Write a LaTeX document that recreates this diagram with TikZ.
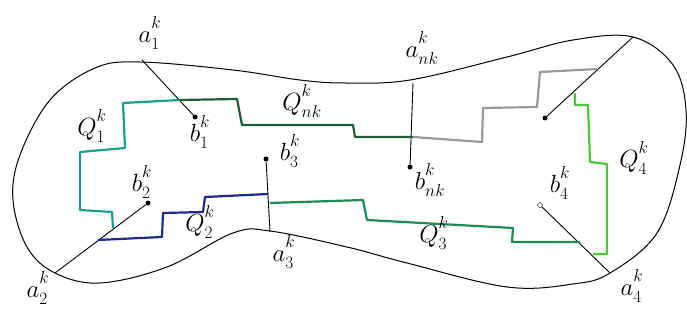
\documentclass[tikz,border=0pt]{standalone}
\usepackage{amsmath}
\definecolor{qone}{HTML}{1A9E8C}
\definecolor{qnk}{HTML}{1F5A3A}
\definecolor{qgray}{HTML}{9A9A9A}
\definecolor{qfour}{HTML}{4CC83A}
\definecolor{qthree}{HTML}{1E8A55}
\definecolor{qtwo}{HTML}{1E2A8A}
\newcommand{\mylbl}[3]{$#1_{#2}^{\raisebox{5pt}{$\scriptstyle #3$}}$}
\begin{document}
\begin{tikzpicture}[x=1pt,y=-1pt,
  dotnode/.style={circle,fill=black,inner sep=0pt,minimum size=5pt},
  lab/.style={font=\fontsize{24}{26}\selectfont,inner sep=0pt},
  seg/.style={line width=0.9pt},
  stair/.style={line width=2.2pt,line join=round}]
\useasboundingbox (0,0) rectangle (687,323);
% outer domain
\draw[line width=1pt] plot[smooth cycle,tension=0.6] coordinates{
 (140,62) (233,70) (300,80) (345,83) (410,80) (507,57) (573,40) (633,37)
 (673,65) (686,110) (680,165) (657,233) (610,273) (573,284) (507,287)
 (407,263) (347,247) (270,231) (233,233) (167,267) (100,283) (55,273)
 (27,247) (13,200) (20,155) (50,100) (95,68)};
% boundary points
\coordinate (a1) at (142,60);
\coordinate (ank) at (413,83);
\coordinate (atr) at (633,37);
\coordinate (a2) at (55,273);
\coordinate (a3) at (270,232);
\coordinate (a4) at (610,273);
% interior points
\node[dotnode] (b1) at (195,117) {};
\node[dotnode] (bnk) at (410,167) {};
\node[dotnode] (btr) at (545,118) {};
\node[dotnode] (b2) at (148,203) {};
\node[dotnode] (b3) at (266,159) {};
\node[circle,draw,fill=white,inner sep=0pt,minimum size=5pt] (b4) at (540,205) {};
% segments
\draw[seg] (a1) -- (b1);
\draw[seg] (ank) -- (bnk);
\draw[seg] (atr) -- (btr);
\draw[seg] (a2) -- (b2);
\draw[seg] (a3) -- (b3);
\draw[seg] (a4) -- (b4);
% staircase paths
\draw[stair,qone] (180,100) -- (123,103) -- (125,148) -- (80,152) -- (80,210) -- (112,212) -- (113,228);
\draw[stair,qnk] (180,100) -- (237,99) -- (242,125) -- (353,125) -- (355,137) -- (413,137);
\draw[stair,qgray] (413,137) -- (482,142) -- (483,108) -- (537,107) -- (540,72) -- (597,69);
\draw[stair,qfour] (575,93) -- (575,105) -- (588,105) -- (590,162) -- (607,164) -- (607,254) -- (593,254);
\draw[stair,qthree] (270,203) -- (363,200) -- (367,220) -- (513,228) -- (512,242) -- (580,242);
\draw[stair,qtwo] (98,240) -- (162,237) -- (163,213) -- (203,212) -- (205,197) -- (268,194);
% labels
\node[lab] (la1) at (150,33) {\mylbl{a}{1}{k}};
\node[lab] (lq1) at (92,126) {\mylbl{Q}{1}{k}};
\node[lab] (lb1) at (200,132) {\mylbl{b}{1}{k}};
\node[lab] (lqnk) at (302,101) {\mylbl{Q}{nk}{k}};
\node[lab] (lb3) at (290,151) {\mylbl{b}{3}{k}};
\node[lab] (lb2) at (142,182) {\mylbl{b}{2}{k}};
\node[lab] (lq2) at (200,222) {\mylbl{Q}{2}{k}};
\node[lab] (la3) at (284,252) {\mylbl{a}{3}{k}};
\node[lab] (la2) at (38,288) {\mylbl{a}{2}{k}};
\node[lab] (lank) at (422,48) {\mylbl{a}{nk}{k}};
\node[lab] (lbnk) at (430,180) {\mylbl{b}{nk}{k}};
\node[lab] (lq3) at (434,233) {\mylbl{Q}{3}{k}};
\node[lab] (lb4) at (560,183) {\mylbl{b}{4}{k}};
\node[lab] (lq4) at (634,158) {\mylbl{Q}{4}{k}};
\node[lab] (la4) at (632,286) {\mylbl{a}{4}{k}};
\end{tikzpicture}
\end{document}
